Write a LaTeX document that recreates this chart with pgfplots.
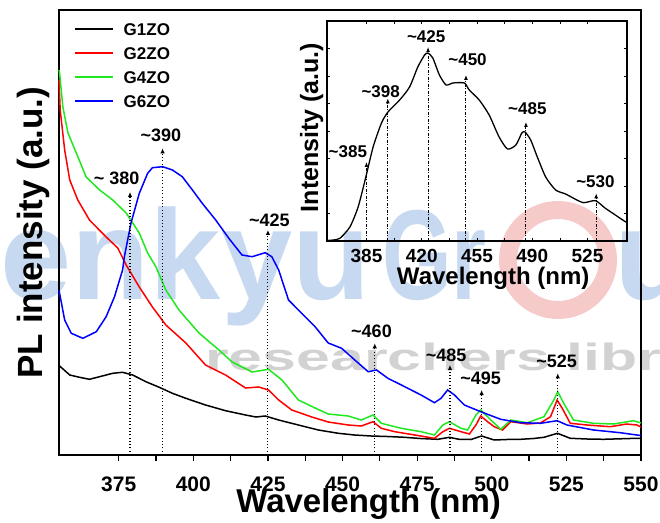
\documentclass[border=0pt]{standalone}
\usepackage{fontspec}
\setmainfont{Liberation Sans}
\usepackage{pgfplots}
\pgfplotsset{compat=1.18}
\usetikzlibrary{arrows.meta}
\definecolor{wmblue}{HTML}{C6D9F1}
\definecolor{wmred}{HTML}{F7CACA}
\definecolor{wmgray}{HTML}{D2D2D2}
\definecolor{ggreen}{HTML}{1FE81F}
\newcommand{\fs}[1]{\fontsize{#1pt}{#1pt}\selectfont\bfseries}
\tikzset{
  ann/.style={line width=1.1pt, dash pattern=on 1pt off 2.3pt, -{Latex[length=5pt,width=4.5pt]}},
  annin/.style={line width=1pt, dash pattern=on 3pt off 1.5pt on 1pt off 1.5pt, -{Latex[length=5pt,width=4pt]}},
}

\begin{document}
\begin{tikzpicture}
\path[use as bounding box] (0pt,0pt) rectangle (660pt,522pt);

% watermark
\node[anchor=base west, inner sep=0, text=wmblue, font=\fs{128}] at (-92pt,222pt) {Kenkyu};
\node[anchor=base west, inner sep=0, text=wmblue, font=\fs{128}, xscale=0.7] at (382pt,222pt) {Gr};
\draw[wmred, line width=18pt] (558pt,262pt) circle (50pt);
\node[anchor=base west, inner sep=0, text=wmblue, font=\fs{128}] at (614pt,222pt) {u};
\node[anchor=base west, inner sep=0, text=wmgray, font=\fs{38}, xscale=1.6] at (205pt,152pt) {researchers library};

% main axis
\begin{axis}[
  at={(59pt,67pt)}, anchor=south west,
  scale only axis, width=582pt, height=445pt,
  xmin=355, xmax=550, ymin=0, ymax=445,
  xtick={375,400,...,550}, minor x tick num=1,
  ytick=\empty,
  xtick pos=left, tick align=outside,
  major tick length=6pt, minor tick length=6pt,
  axis line style={line width=1.6pt},
  every tick/.append style={line width=1.2pt, black},
  /pgf/number format/assume math mode=true,
  x tick label style={font=\fs{21}, anchor=base, yshift=-30pt},
  xlabel={Wavelength (nm)},
  xlabel style={at={(axis description cs:0.532,-0.13)}, anchor=base, font=\fs{33}},
  ylabel={PL intensity (a.u.)},
  ylabel style={at={(axis description cs:-0.029,0.5)}, anchor=base, font=\fs{35}},
  legend style={draw=none, fill=none, at={(axis description cs:0.0258,0.971)}, anchor=north west,
    font=\fs{17}, inner sep=0pt, row sep=12pt, column sep=10pt,
    nodes={inner sep=0pt, text height=12pt, text depth=0pt}},
  legend cell align=left,
  legend image code/.code={\draw[#1] (0pt,0pt) -- (38pt,0pt);},
  clip=false,
]
\addplot[black, line width=1.5pt] coordinates {
(355,90) (355.2,89) (358.6,80) (361.9,77.7) (365.2,75.7) (368.6,78.3) (373,81.7) (376.3,82.7)
(379.7,80) (384.1,73.3) (388.6,67.7) (393,61.7) (397.5,56.7) (404.1,50) (410.8,44.3) (417.5,40)
(421,38) (424.1,39) (428.6,35) (435.2,30) (441.9,25) (448.6,21.7) (454,20) (459.7,19) (465,18.5)
(470.8,17.7) (476,16.5) (481.9,15.7) (485.8,17.7) (489,15.7) (493,15.5) (496.6,19) (500.8,15)
(505,15.5) (509.6,15.7) (514,16.5) (517.5,17.7) (522,21.7) (526.3,16.7) (532,16) (537.5,15.7)
(543,16.2) (548.6,16.7) (550,16.7)
};
\addlegendentry{G1ZO}
\addplot[red, line width=1.5pt] coordinates {
(355,375) (355.4,345) (356.9,305) (358.6,275) (361.3,255) (365.2,235) (370.8,218) (374.7,207)
(377.5,190) (381.9,168) (386.3,148) (390.8,130) (397.5,112) (404.1,90) (410.8,80) (417.5,67)
(421.9,68) (425.2,65) (428.6,55) (433,45) (439.7,38) (445.2,33) (451.9,30) (456.3,29) (460.2,33.3)
(463,26.7) (467.5,23.3) (474.2,20) (480.8,16.7) (483.6,23.3) (485.8,26.7) (489.7,23.3) (492.5,21)
(494.7,30) (496.3,39) (498.6,33.3) (500.8,28.3) (503.6,25) (506.4,33.3) (511.9,31) (516.3,32)
(519.7,38.3) (521.9,55) (523.6,46.7) (526.3,31.7) (531.9,30) (539.7,28.3) (545.2,31) (548.6,30) (550,28)
};
\addlegendentry{G2ZO}
\addplot[ggreen, line width=1.5pt] coordinates {
(355,385) (355.2,381.7) (356.3,348) (358,322) (360.8,302) (364.1,278) (368.6,265) (373,255)
(377.5,242) (381.9,222) (384.7,202) (387.5,188) (390.8,165) (395.2,145) (401.9,122) (408.6,105)
(413,93) (419.7,83) (425.2,85.7) (429.7,75) (435.2,55) (440.8,47) (445.2,41) (451.9,39) (456.3,35)
(460.2,40) (463,31.7) (469.7,26.7) (476.3,23.3) (480.8,20) (483.6,30) (485.8,33.3) (489.7,26.7)
(491.9,25) (494.7,40) (496.3,45) (499.7,35) (503,25.7) (506.4,35) (511.9,32.3) (517.5,38.3)
(520.8,55) (522.1,63.3) (524.1,51.7) (527.4,35) (534.1,31.7) (540.8,31) (547.5,34.3) (550,32)
};
\addlegendentry{G4ZO}
\addplot[blue, line width=1.5pt] coordinates {
(355,165) (355.2,161.7) (356.9,135) (359.1,121.7) (363,116.7) (367.5,123.3) (370.8,138.3)
(373.6,158.3) (376.3,185) (376.9,198.3) (379.1,231.7) (381.9,261.7) (384.7,281.7) (386.3,287.3)
(389.7,288.3) (393,285) (396.3,278.3) (399.7,265) (403,251.7) (407.5,235) (411.9,216.7) (416.3,200)
(419.7,198.3) (424.1,202.3) (426.3,198.3) (428.6,185) (431.9,155) (435.2,145) (440.8,128.3)
(445.2,112) (449.7,106.7) (454.1,95) (458.6,83.3) (461.4,85) (465.2,76.7) (469.7,70) (476.3,60)
(480.8,52.3) (483,56.7) (485.2,65) (487.5,60) (490.8,50) (496.3,43.3) (503,35.7) (509.7,32.3)
(516.3,31.7) (521.9,34.3) (525.2,30) (534.1,25) (543,22.3) (548.6,20) (550,19.5)
};
\addlegendentry{G6ZO}

\draw[ann] (axis cs:378.8,0) -- (axis cs:378.8,263);
\draw[ann] (axis cs:389.7,0) -- (axis cs:389.7,306.7);
\draw[ann] (axis cs:425,0) -- (axis cs:425,225);
\draw[ann] (axis cs:460.8,0) -- (axis cs:460.8,111.7);
\draw[ann] (axis cs:486,0) -- (axis cs:486,90);
\draw[ann] (axis cs:496.6,0) -- (axis cs:496.6,65);
\draw[ann] (axis cs:522.1,0) -- (axis cs:522.1,81.7);
\begin{scope}[every node/.style={font=\fs{18}, inner sep=0pt}]
\node at (axis cs:374.3,276.7) {\textasciitilde\ 380};
\node at (axis cs:389.1,320) {\textasciitilde390};
\node at (axis cs:425.5,235) {\textasciitilde425};
\node at (axis cs:459.7,123.3) {\textasciitilde460};
\node at (axis cs:484.7,100) {\textasciitilde485};
\node at (axis cs:496.3,76.7) {\textasciitilde495};
\node at (axis cs:521.7,93.3) {\textasciitilde525};
\end{scope}
\end{axis}

% inset
\begin{axis}[
  at={(327pt,281pt)}, anchor=south west,
  scale only axis, width=300pt, height=220pt,
  xmin=360, xmax=550, ymin=0, ymax=220,
  xtick={385,420,...,525}, minor x tick num=1,
  ytick={27.5,55,82.5,110,137.5,165,192.5}, yticklabels={},
  tick align=inside, tick pos=both,
  major tick length=3pt, minor tick length=3pt,
  axis line style={line width=1.1pt},
  every tick/.append style={line width=0.8pt, black},
  /pgf/number format/assume math mode=true,
  x tick label style={font=\fs{19}, anchor=base, yshift=-22pt},
  xlabel={Wavelength (nm)},
  xlabel style={at={(axis description cs:0.554,-0.2)}, anchor=base, font=\fs{24}},
  ylabel={Intensity (a.u.)},
  ylabel style={at={(axis description cs:-0.03,0.516)}, anchor=base, font=\fs{25}},
  clip=false,
]
\addplot[black, line width=1.3pt, smooth, tension=0.4] coordinates {
(360,0.5) (364,1) (368.2,2.7) (374.5,14) (379.7,34) (384.6,64) (389.2,94) (394.5,118) (398.6,129)
(406,141) (412.3,154) (417.5,174) (421.8,186) (423.9,188) (427,183) (431.2,166) (435.4,156)
(439.6,158) (447,158) (450.1,151) (456.4,141) (462.7,126) (469,104) (474.3,92) (479.6,96)
(483.4,108) (485.4,109) (489,101) (493.2,84) (498.5,64) (504.8,51) (511.1,47) (517.4,41.7)
(522.6,38.3) (530,40.3) (536.3,32.7) (542.6,26) (548.9,19.3) (550,18.5)
};
\draw[annin] (axis cs:385,0) -- (axis cs:385,79);
\draw[annin] (axis cs:398.5,0) -- (axis cs:398.5,142.7);
\draw[annin] (axis cs:424,0) -- (axis cs:424,194);
\draw[annin] (axis cs:448,0) -- (axis cs:448,166);
\draw[annin] (axis cs:486,0) -- (axis cs:486,119);
\draw[annin] (axis cs:530.5,0) -- (axis cs:530.5,47.7);
\begin{scope}[every node/.style={font=\fs{17}, inner sep=0pt}]
\node at (axis cs:373.2,89) {\textasciitilde385};
\node at (axis cs:394,149) {\textasciitilde398};
\node at (axis cs:422.8,204) {\textasciitilde425};
\node at (axis cs:449,181) {\textasciitilde450};
\node at (axis cs:486.9,132.7) {\textasciitilde485};
\node at (axis cs:530,59) {\textasciitilde530};
\end{scope}
\end{axis}
\end{tikzpicture}
\end{document}
